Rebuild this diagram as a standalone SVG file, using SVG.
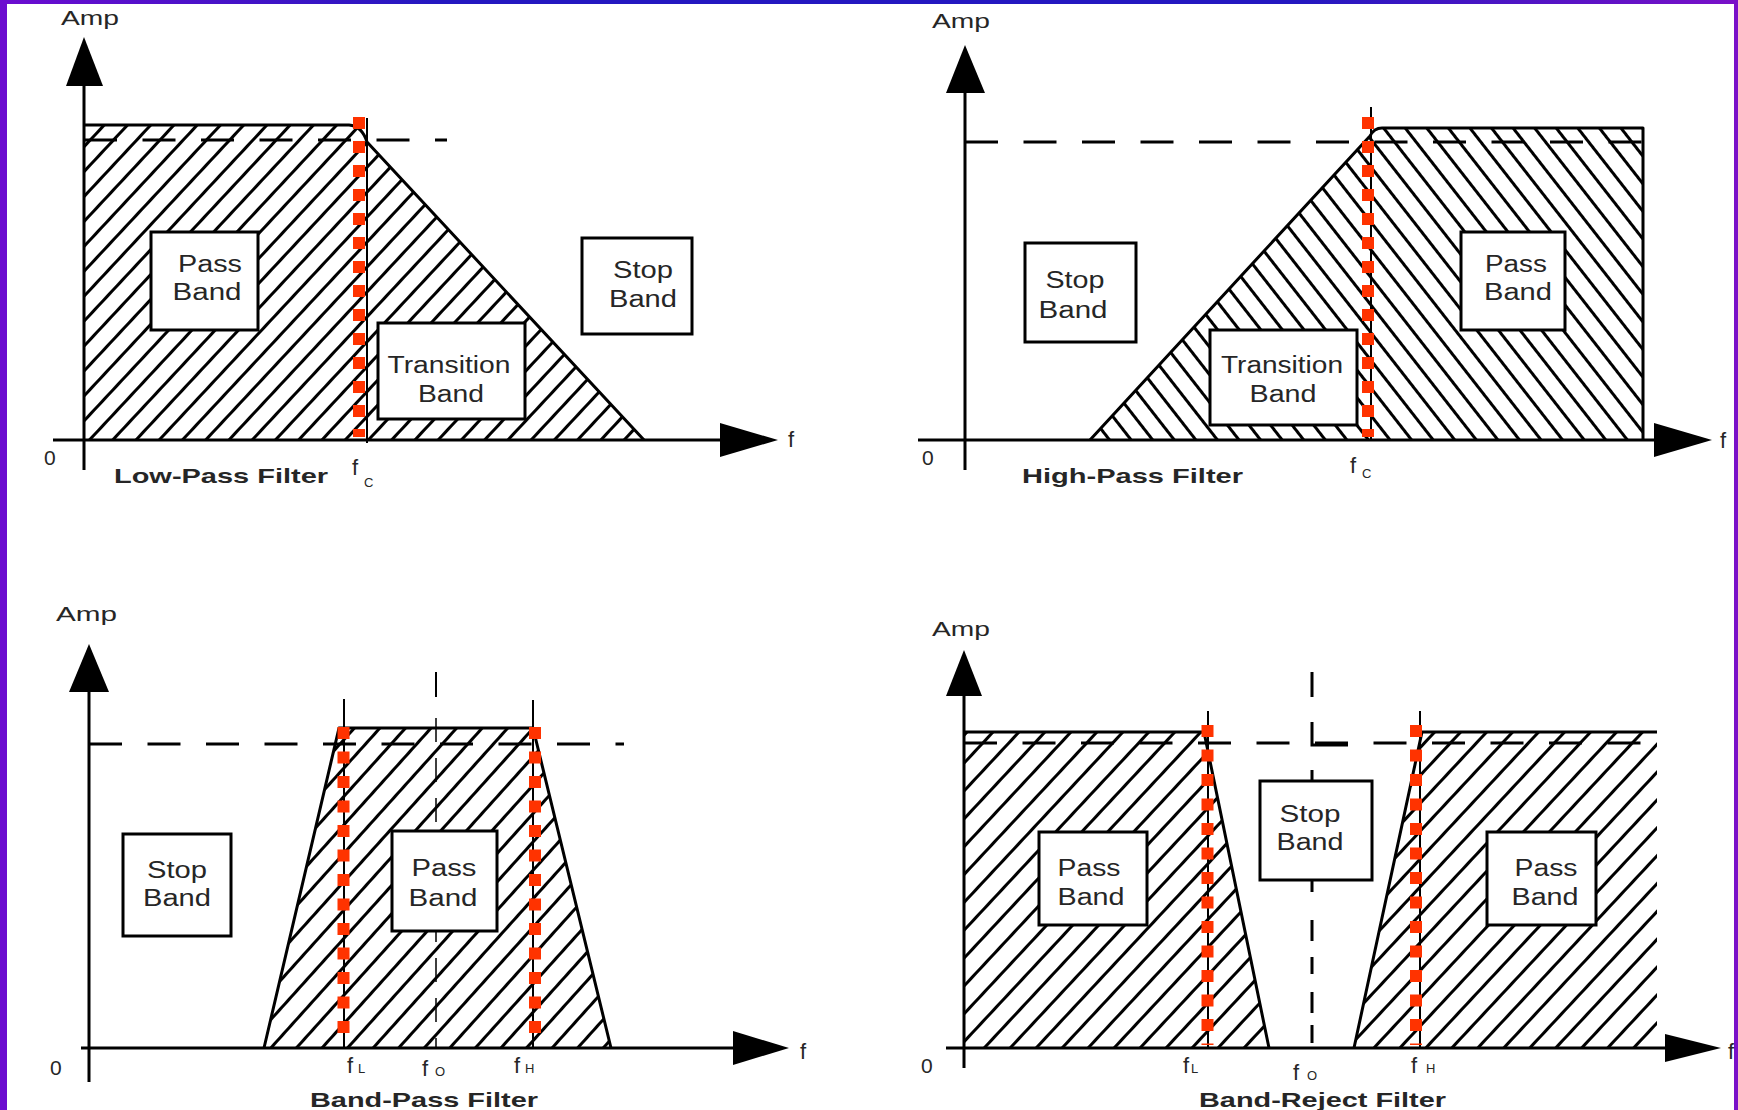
<svg xmlns="http://www.w3.org/2000/svg" width="1738" height="1110" viewBox="0 0 1738 1110">
<style>
.t{font-family:"Liberation Sans",Arial,sans-serif;fill:#262626}
.lb{font-size:23px;text-anchor:middle}
.amp{font-size:21px}
.ttl{font-size:21px;font-weight:bold}
.fs{font-size:22px}
.sub{font-size:13px}
.ol{fill:none;stroke:#000;stroke-width:3;stroke-linejoin:round}
.ax{stroke:#000;stroke-width:3;fill:none}
.dsh{stroke:#000;stroke-width:3;fill:none;stroke-dasharray:33 25.5}
.thin{stroke:#000;stroke-width:2;fill:none}
.box{fill:#fff;stroke:#000;stroke-width:3}
.red{stroke:#ff3300;stroke-width:12;fill:none;stroke-dasharray:12 12}
</style>
<defs>
<linearGradient id="gtop" x1="0" y1="0" x2="1" y2="0">
<stop offset="0" stop-color="#6c0cd0"/><stop offset="0.25" stop-color="#2418c0"/><stop offset="0.75" stop-color="#2418c0"/><stop offset="1" stop-color="#7a10c8"/>
</linearGradient>
<pattern id="hA" patternUnits="userSpaceOnUse" width="20" height="17" patternTransform="rotate(-47)"><rect width="20" height="17" fill="#fff"/><rect y="7" width="20" height="3" fill="#000"/></pattern>
<pattern id="hB" patternUnits="userSpaceOnUse" width="20" height="17" patternTransform="rotate(52)"><rect width="20" height="17" fill="#fff"/><rect y="7" width="20" height="3" fill="#000"/></pattern>
<pattern id="hC" patternUnits="userSpaceOnUse" width="20" height="19" patternTransform="rotate(-48)"><rect width="20" height="19" fill="#fff"/><rect y="8" width="20" height="3" fill="#000"/></pattern>
<pattern id="hD" patternUnits="userSpaceOnUse" width="20" height="19" patternTransform="rotate(-47)"><rect width="20" height="19" fill="#fff"/><rect y="8" width="20" height="3" fill="#000"/></pattern>
</defs>
<rect width="1738" height="1110" fill="#fff"/>
<g id="frame">
<rect x="0" y="0" width="1738" height="4" fill="url(#gtop)"/>
<rect x="0" y="0" width="7" height="1110" fill="#6c0cd0"/>
<rect x="1734" y="0" width="4" height="1110" fill="#7a10c8"/>
</g>

<g id="lowpass">
<path d="M84,125 H349 Q362,126 367,142 L644,440 H84 Z" fill="url(#hA)"/>
<path class="ol" d="M84,125 H349 Q362,126 367,142 L644,440"/>
<line class="dsh" x1="84" y1="140" x2="447" y2="140"/>
<line class="thin" x1="367" y1="118" x2="367" y2="443"/>
<g id="lp-pass"><rect class="box" x="151" y="232" width="107" height="98"/><text class="t lb" x="210" y="272" textLength="64" lengthAdjust="spacingAndGlyphs">Pass</text><text class="t lb" x="207" y="300" textLength="69" lengthAdjust="spacingAndGlyphs">Band</text></g>
<g id="lp-trans"><rect class="box" x="378" y="323" width="147" height="96"/><text class="t lb" x="449" y="373" textLength="123" lengthAdjust="spacingAndGlyphs">Transition</text><text class="t lb" x="451" y="402" textLength="66" lengthAdjust="spacingAndGlyphs">Band</text></g>
<g id="lp-stop"><rect class="box" x="582" y="238" width="110" height="96"/><text class="t lb" x="643" y="278" textLength="60" lengthAdjust="spacingAndGlyphs">Stop</text><text class="t lb" x="643" y="307" textLength="68" lengthAdjust="spacingAndGlyphs">Band</text></g>
<line class="ax" x1="84" y1="80" x2="84" y2="470"/>
<polygon points="84,37 66,86 103,86" fill="#000"/>
<line class="ax" x1="53" y1="440" x2="724" y2="440"/>
<polygon points="778,440 720,423 720,457" fill="#000"/>
<line class="red" x1="359" y1="117" x2="359" y2="437"/>
<text class="t amp" x="61" y="25" textLength="58" lengthAdjust="spacingAndGlyphs">Amp</text>
<text class="t amp" x="44" y="465">0</text>
<text class="t fs" x="788" y="447">f</text>
<text class="t ttl" x="114" y="483" textLength="214" lengthAdjust="spacingAndGlyphs">Low-Pass Filter</text>
<text class="t fs" x="352" y="475">f</text><text class="t sub" x="364" y="487">C</text>
</g>

<g id="highpass">
<path d="M1090,440 L1370,136 Q1374,128 1382,128 H1643 V440 Z" fill="url(#hB)"/>
<path class="ol" d="M1090,440 L1370,136 Q1374,128 1382,128 H1643 V440"/>
<line class="dsh" x1="965" y1="142" x2="1643" y2="142"/>
<line class="thin" x1="1371" y1="107" x2="1371" y2="440"/>
<g id="hp-stop"><rect class="box" x="1025" y="243" width="111" height="99"/><text class="t lb" x="1075" y="288" textLength="59" lengthAdjust="spacingAndGlyphs">Stop</text><text class="t lb" x="1073" y="318" textLength="69" lengthAdjust="spacingAndGlyphs">Band</text></g>
<g id="hp-trans"><rect class="box" x="1210" y="330" width="147" height="95"/><text class="t lb" x="1282" y="373" textLength="122" lengthAdjust="spacingAndGlyphs">Transition</text><text class="t lb" x="1283" y="402" textLength="67" lengthAdjust="spacingAndGlyphs">Band</text></g>
<g id="hp-pass"><rect class="box" x="1461" y="232" width="104" height="98"/><text class="t lb" x="1516" y="272" textLength="62" lengthAdjust="spacingAndGlyphs">Pass</text><text class="t lb" x="1518" y="300" textLength="68" lengthAdjust="spacingAndGlyphs">Band</text></g>
<line class="ax" x1="965" y1="85" x2="965" y2="470"/>
<polygon points="965,45 946,93 985,93" fill="#000"/>
<line class="ax" x1="918" y1="440" x2="1658" y2="440"/>
<polygon points="1712,440 1654,423 1654,457" fill="#000"/>
<line class="red" x1="1368" y1="117" x2="1368" y2="437"/>
<text class="t amp" x="932" y="28" textLength="58" lengthAdjust="spacingAndGlyphs">Amp</text>
<text class="t amp" x="922" y="465">0</text>
<text class="t fs" x="1720" y="448">f</text>
<text class="t ttl" x="1022" y="483" textLength="221" lengthAdjust="spacingAndGlyphs">High-Pass Filter</text>
<text class="t fs" x="1350" y="473">f</text><text class="t sub" x="1362" y="478">C</text>
</g>

<g id="bandpass">
<path d="M264,1048 L339,728 H533 L611,1048 Z" fill="url(#hC)"/>
<path class="ol" d="M264,1048 L339,728 H533 L611,1048"/>
<line class="dsh" x1="89" y1="744" x2="624" y2="744"/>
<line class="thin" x1="436" y1="672" x2="436" y2="697" stroke-width="3"/>
<line x1="436" y1="718" x2="436" y2="1048" stroke="#000" stroke-width="1.5" stroke-dasharray="24 16"/>
<line class="thin" x1="344" y1="699" x2="344" y2="1048"/>
<line class="thin" x1="533" y1="700" x2="533" y2="1048"/>
<g id="bp-stop"><rect class="box" x="123" y="834" width="108" height="102"/><text class="t lb" x="177" y="878" textLength="60" lengthAdjust="spacingAndGlyphs">Stop</text><text class="t lb" x="177" y="906" textLength="68" lengthAdjust="spacingAndGlyphs">Band</text></g>
<g id="bp-pass"><rect class="box" x="392" y="831" width="105" height="100"/><text class="t lb" x="444" y="876" textLength="65" lengthAdjust="spacingAndGlyphs">Pass</text><text class="t lb" x="443" y="906" textLength="69" lengthAdjust="spacingAndGlyphs">Band</text></g>
<line class="ax" x1="89" y1="685" x2="89" y2="1082"/>
<polygon points="89,644 69,692 109,692" fill="#000"/>
<line class="ax" x1="81" y1="1048" x2="737" y2="1048"/>
<polygon points="789,1048 733,1031 733,1065" fill="#000"/>
<line class="red" x1="343.5" y1="727" x2="343.5" y2="1045" style="stroke-dasharray:12 12.5"/>
<line class="red" x1="535" y1="727" x2="535" y2="1045" style="stroke-dasharray:12 12.5"/>
<text class="t amp" x="56" y="621" textLength="61" lengthAdjust="spacingAndGlyphs">Amp</text>
<text class="t amp" x="50" y="1075">0</text>
<text class="t fs" x="800" y="1059">f</text>
<text class="t fs" x="347" y="1073">f</text><text class="t sub" x="358" y="1073">L</text>
<text class="t fs" x="422" y="1076">f</text><text class="t sub" x="435" y="1076">O</text>
<text class="t fs" x="514" y="1073">f</text><text class="t sub" x="525" y="1073">H</text>
<text class="t ttl" x="310" y="1107" textLength="228" lengthAdjust="spacingAndGlyphs">Band-Pass Filter</text>
</g>

<g id="bandreject">
<path d="M964,732 H1204 L1269,1048 H964 Z" fill="url(#hD)"/>
<path d="M1657,732 H1422 L1354,1048 H1657 Z" fill="url(#hD)"/>
<path class="ol" d="M964,732 H1204 L1269,1048"/>
<path class="ol" d="M1657,732 H1422 L1354,1048"/>
<line class="dsh" x1="964" y1="743" x2="1657" y2="743"/>
<path class="ax" d="M1312,672 V697 M1312,722 V745 H1348 M1312,770 V781 M1312,880 V892 M1312,920 V941 M1312,957 V974 M1312,992 V1013 M1312,1025 V1043"/>
<line class="thin" x1="1208" y1="711" x2="1208" y2="1048"/>
<line class="thin" x1="1420" y1="711" x2="1420" y2="1048"/>
<g id="br-stop"><rect class="box" x="1260" y="781" width="112" height="99"/><text class="t lb" x="1310" y="822" textLength="61" lengthAdjust="spacingAndGlyphs">Stop</text><text class="t lb" x="1310" y="850" textLength="67" lengthAdjust="spacingAndGlyphs">Band</text></g>
<g id="br-pass1"><rect class="box" x="1039" y="832" width="108" height="93"/><text class="t lb" x="1089" y="876" textLength="63" lengthAdjust="spacingAndGlyphs">Pass</text><text class="t lb" x="1091" y="905" textLength="67" lengthAdjust="spacingAndGlyphs">Band</text></g>
<g id="br-pass2"><rect class="box" x="1487" y="832" width="109" height="93"/><text class="t lb" x="1546" y="876" textLength="63" lengthAdjust="spacingAndGlyphs">Pass</text><text class="t lb" x="1545" y="905" textLength="67" lengthAdjust="spacingAndGlyphs">Band</text></g>
<line class="ax" x1="964" y1="688" x2="964" y2="1068" stroke-width="4"/>
<polygon points="964,650 946,696 982,696" fill="#000"/>
<line class="ax" x1="946" y1="1048" x2="1669" y2="1048"/>
<polygon points="1721,1048 1665,1034 1665,1062" fill="#000"/>
<line class="red" x1="1207.5" y1="725" x2="1207.5" y2="1045" style="stroke-dasharray:12 12.5"/>
<line class="red" x1="1416" y1="725" x2="1416" y2="1045" style="stroke-dasharray:12 12.5"/>
<text class="t amp" x="932" y="636" textLength="58" lengthAdjust="spacingAndGlyphs">Amp</text>
<text class="t amp" x="921" y="1073">0</text>
<text class="t fs" x="1728" y="1059">f</text>
<text class="t fs" x="1183" y="1073">f</text><text class="t sub" x="1191" y="1073">L</text>
<text class="t fs" x="1293" y="1080">f</text><text class="t sub" x="1307" y="1080">O</text>
<text class="t fs" x="1411" y="1073">f</text><text class="t sub" x="1426" y="1073">H</text>
<text class="t ttl" x="1199" y="1107" textLength="247" lengthAdjust="spacingAndGlyphs">Band-Reject Filter</text>
</g>
</svg>
